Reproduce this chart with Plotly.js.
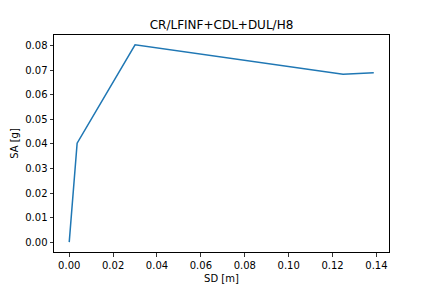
<!DOCTYPE html>
<html><head><meta charset="utf-8">
<script src="https://cdn.plot.ly/plotly-3.0.1.min.js"></script>
<style>body{margin:0;padding:0;}#c{width:432px;height:288px;}</style>
</head><body><div id="c"></div>
<script>
const sd = [0.0, 0.0036, 0.0300, 0.1248, 0.1388];
const sa = [0.0, 0.0403, 0.0803, 0.0683, 0.0689];
const xTicks = [0, 0.02, 0.04, 0.06, 0.08, 0.10, 0.12, 0.14];
const yTicks = [0, 0.01, 0.02, 0.03, 0.04, 0.05, 0.06, 0.07, 0.08];

const axisCommon = {
  showgrid: false, zeroline: false, showline: true, mirror: true,
  linecolor: '#000', linewidth: 1, ticks: 'outside', ticklen: 3.5, tickwidth: 0.8,
  tickcolor: '#000', tickfont: {family: 'DejaVu Sans', size: 10, color: '#000'}
};
const layout = {
  width: 432, height: 288,
  margin: {l: 54, r: 43, t: 35, b: 36},
  paper_bgcolor: '#fff', plot_bgcolor: '#fff',
  showlegend: false,
  title: {text: 'CR/LFINF+CDL+DUL/H8', font: {family: 'DejaVu Sans', size: 12, color: '#000'},
          x: (54 + 389) / 2 / 432, xanchor: 'center', y: 1 - 25/288, yanchor: 'middle'},
  xaxis: Object.assign({}, axisCommon, {
    range: [-0.00694, 0.14574], tickvals: xTicks,
    ticktext: xTicks.map(v => v.toFixed(2)),
    title: {text: 'SD [m]', font: {family: 'DejaVu Sans', size: 10, color: '#000'}, standoff: 5}
  }),
  yaxis: Object.assign({}, axisCommon, {
    range: [-0.004015, 0.084315], tickvals: yTicks,
    ticktext: yTicks.map(v => v.toFixed(2)),
    title: {text: 'SA [g]', font: {family: 'DejaVu Sans', size: 10, color: '#000'}, standoff: 4}
  })
};
Plotly.newPlot('c', [{x: sd, y: sa, mode: 'lines', line: {color: '#1f77b4', width: 1.5}}], layout, {staticPlot: true});
</script></body></html>
